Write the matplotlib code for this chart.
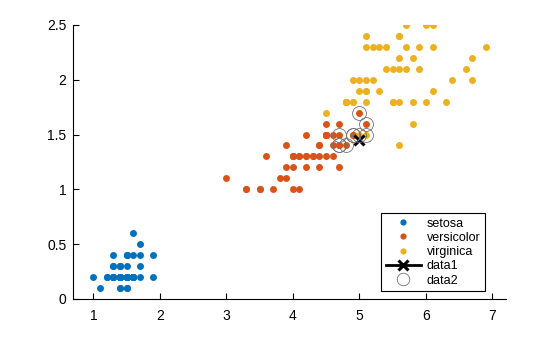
import numpy as np
import matplotlib
matplotlib.use('Agg')
import matplotlib.pyplot as plt
from matplotlib.ticker import FormatStrFormatter

plt.rcParams['font.family'] = ['Liberation Sans', 'DejaVu Sans']

# Fisher iris petal length / petal width
setosa_len = [1.4, 1.4, 1.3, 1.5, 1.4, 1.7, 1.4, 1.5, 1.4, 1.5, 1.5, 1.6, 1.4, 1.1, 1.2, 1.5, 1.3, 1.4, 1.7, 1.5,
              1.7, 1.5, 1.0, 1.7, 1.9, 1.6, 1.6, 1.5, 1.4, 1.6, 1.6, 1.5, 1.5, 1.4, 1.5, 1.2, 1.3, 1.4, 1.3, 1.5,
              1.3, 1.3, 1.3, 1.6, 1.9, 1.4, 1.6, 1.4, 1.5, 1.4]
setosa_wid = [0.2, 0.2, 0.2, 0.2, 0.2, 0.4, 0.3, 0.2, 0.2, 0.1, 0.2, 0.2, 0.1, 0.1, 0.2, 0.4, 0.4, 0.3, 0.3, 0.3,
              0.2, 0.4, 0.2, 0.5, 0.2, 0.2, 0.4, 0.2, 0.2, 0.2, 0.2, 0.4, 0.1, 0.2, 0.2, 0.2, 0.2, 0.1, 0.2, 0.2,
              0.3, 0.3, 0.2, 0.6, 0.4, 0.3, 0.2, 0.2, 0.2, 0.2]
versi_len = [4.7, 4.5, 4.9, 4.0, 4.6, 4.5, 4.7, 3.3, 4.6, 3.9, 3.5, 4.2, 4.0, 4.7, 3.6, 4.4, 4.5, 4.1, 4.5, 3.9,
             4.8, 4.0, 4.9, 4.7, 4.3, 4.4, 4.8, 5.0, 4.5, 3.5, 3.8, 3.7, 3.9, 5.1, 4.5, 4.5, 4.7, 4.4, 4.1, 4.0,
             4.4, 4.6, 4.0, 3.3, 4.2, 4.2, 4.2, 4.3, 3.0, 4.1]
versi_wid = [1.4, 1.5, 1.5, 1.3, 1.5, 1.3, 1.6, 1.0, 1.3, 1.4, 1.0, 1.5, 1.0, 1.4, 1.3, 1.4, 1.5, 1.0, 1.5, 1.1,
             1.8, 1.3, 1.5, 1.2, 1.3, 1.4, 1.4, 1.7, 1.5, 1.0, 1.1, 1.0, 1.2, 1.6, 1.5, 1.6, 1.5, 1.3, 1.3, 1.3,
             1.2, 1.4, 1.2, 1.0, 1.3, 1.2, 1.3, 1.3, 1.1, 1.3]
virg_len = [6.0, 5.1, 5.9, 5.6, 5.8, 6.6, 4.5, 6.3, 5.8, 6.1, 5.1, 5.3, 5.5, 5.0, 5.1, 5.3, 5.5, 6.7, 6.9, 5.0,
            5.7, 4.9, 6.7, 4.9, 5.7, 6.0, 4.8, 4.9, 5.6, 5.8, 6.1, 6.4, 5.6, 5.1, 5.6, 6.1, 5.6, 5.5, 4.8, 5.4,
            5.6, 5.1, 5.1, 5.9, 5.7, 5.2, 5.0, 5.2, 5.4, 5.1]
virg_wid = [2.5, 1.9, 2.1, 1.8, 2.2, 2.1, 1.7, 1.8, 1.8, 2.5, 2.0, 1.9, 2.1, 2.0, 2.4, 2.3, 1.8, 2.2, 2.3, 1.5,
            2.3, 2.0, 2.0, 1.8, 2.1, 1.8, 1.8, 1.8, 2.1, 1.6, 1.9, 2.0, 2.2, 1.5, 1.4, 2.3, 2.4, 1.8, 1.8, 2.1,
            2.4, 2.3, 1.9, 2.3, 2.5, 2.3, 1.9, 2.0, 2.3, 1.8]

new_point = [5.0, 1.45]
# 10 nearest neighbours of the new point
nb_len = [5.0, 4.9, 4.9, 5.1, 5.1, 4.8, 5.0, 4.7, 4.7, 4.7]
nb_wid = [1.5, 1.5, 1.5, 1.5, 1.6, 1.4, 1.7, 1.4, 1.4, 1.5]

fig = plt.figure(figsize=(5.6, 3.37), dpi=100)
ax = fig.add_axes([0.131, 0.113, 0.772, 0.813])

ms = 5
ax.plot(setosa_len, setosa_wid, 'o', color='#0072BD', ms=ms, mew=0, label='setosa')
ax.plot(versi_len, versi_wid, 'o', color='#D95319', ms=ms, mew=0, label='versicolor')
ax.plot(virg_len, virg_wid, 'o', color='#EDB120', ms=ms, mew=0, label='virginica')
ax.plot([new_point[0]], [new_point[1]], 'k-', marker='x', ms=7.5, mew=2.2, lw=2, label='data1')
ax.plot(nb_len, nb_wid, 'o', ms=10, mfc='none', mec='0.45', mew=0.6, label='data2')

ax.set_xlim(0.7, 7.2)
ax.set_ylim(0, 2.5)
ax.set_xticks([1, 2, 3, 4, 5, 6, 7])
ax.set_yticks([0, 0.5, 1, 1.5, 2, 2.5])
ax.yaxis.set_major_formatter(FormatStrFormatter('%g'))
ax.tick_params(direction='in', length=4, width=0.8, labelsize=10, colors='black', pad=5)
ax.tick_params(axis='x', pad=7)
ax.spines['top'].set_visible(False)
ax.spines['right'].set_visible(False)
for s in ['left', 'bottom']:
    ax.spines[s].set_linewidth(0.8)

leg = ax.legend(loc='lower right', bbox_to_anchor=(0.952, 0.029), fontsize=9, fancybox=False,
                edgecolor='black', framealpha=1, borderpad=0.35, labelspacing=0.18,
                handlelength=2.8, handletextpad=0.5, borderaxespad=0, markerscale=0.9)
leg.get_frame().set_linewidth(0.8)

plt.savefig('out.png', dpi=100)
